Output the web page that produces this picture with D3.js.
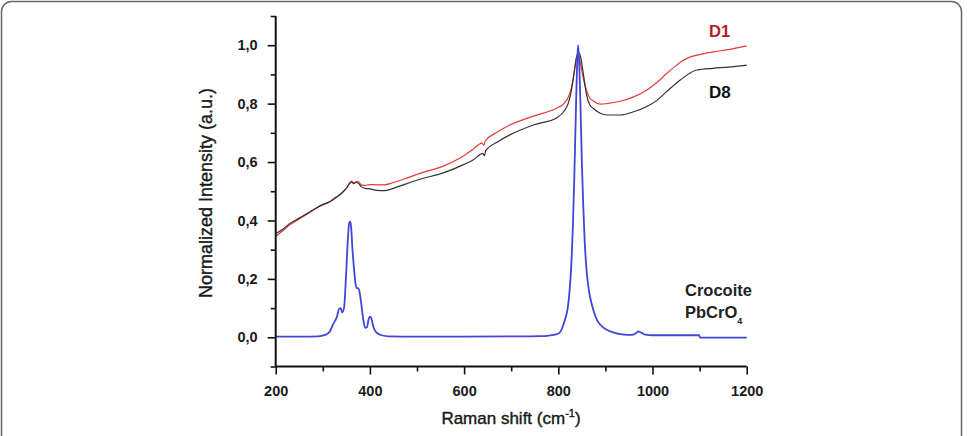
<!DOCTYPE html>
<html><head><meta charset="utf-8">
<script src="https://cdn.jsdelivr.net/npm/d3@7"></script>
<style>body{margin:0;background:#fff}svg{display:block}text{font-family:"Liberation Sans",Arial,sans-serif}</style>
</head><body>
<svg id="c" width="967" height="436"></svg>
<script>
// Crocoite (PbCrO4) reference spectrum
const crocX = [200,250,290,305,315,322,330,335,338,341,345,349,353,356,358,360,363,366,369,372,375,378,382,386,390,394,397,400,403,406,410,416,425,440,500,600,700,760,780,795,803,808,812,816,820,824,828,831,834,837,840,842,844,847,850,853,856,860,865,870,876,882,890,900,915,935,955,965,970,976,985,1000,1050,1099,1101,1200];
const crocY = [0.002,0.002,0.003,0.008,0.02,0.045,0.07,0.098,0.1,0.085,0.1,0.2,0.33,0.39,0.396,0.38,0.3,0.24,0.19,0.168,0.168,0.155,0.11,0.06,0.032,0.035,0.06,0.071,0.065,0.045,0.025,0.014,0.007,0.003,0.002,0.002,0.003,0.004,0.006,0.01,0.016,0.03,0.05,0.07,0.1,0.16,0.26,0.38,0.55,0.75,0.94,1.0,0.95,0.8,0.6,0.45,0.33,0.23,0.16,0.12,0.085,0.06,0.042,0.028,0.018,0.01,0.008,0.014,0.02,0.016,0.009,0.007,0.007,0.007,-0.001,-0.001];
// D1 sample
const d1X = [200,215,230,250,273,295,315,328,336,344,351,356,361,366,370,375,382,390,400,415,430,450,471,506,556,600,620,638,642,645,670,697,747,797,812,822,828,833,837,841,845,849,854,860,866,875,889,903,931,960,988,1010,1030,1050,1062,1073,1100,1129,1160,1200];
const d1Y = [0.345,0.365,0.385,0.405,0.428,0.452,0.465,0.48,0.488,0.5,0.512,0.525,0.535,0.528,0.532,0.533,0.522,0.52,0.523,0.522,0.522,0.53,0.541,0.561,0.586,0.622,0.645,0.665,0.657,0.672,0.702,0.727,0.757,0.785,0.8,0.825,0.855,0.9,0.945,0.97,0.955,0.92,0.88,0.845,0.822,0.808,0.798,0.8,0.808,0.823,0.847,0.873,0.903,0.93,0.945,0.955,0.968,0.977,0.985,0.998];
// D8 sample
const d8X = [200,215,230,250,273,295,315,328,336,344,351,356,361,366,370,375,382,390,400,415,430,450,471,506,556,600,620,640,643,646,670,697,747,797,814,822,828,834,839,844,848,853,860,867,874,889,903,931,960,988,1010,1030,1059,1094,1129,1160,1200];
const d8Y = [0.355,0.37,0.39,0.408,0.43,0.45,0.464,0.478,0.487,0.5,0.512,0.525,0.532,0.526,0.53,0.528,0.515,0.51,0.508,0.503,0.502,0.51,0.522,0.541,0.563,0.592,0.608,0.63,0.621,0.64,0.668,0.693,0.727,0.752,0.778,0.805,0.847,0.91,0.96,0.975,0.955,0.904,0.83,0.795,0.784,0.767,0.761,0.761,0.772,0.79,0.812,0.841,0.881,0.915,0.921,0.925,0.932];

const xMajor = [200,400,600,800,1000,1200];
const xMinor = [300,500,700,900,1100];
const yMajor = [0,0.2,0.4,0.6,0.8,1.0];
const yMinor = [-0.1,0.1,0.3,0.5,0.7,0.9,1.1];
const yTickLabels = ["0,0","0,2","0,4","0,6","0,8","1,0"];

const svg = d3.select("#c");
// frame
svg.append("rect").attr("x",1.5).attr("y",1.5).attr("width",960).attr("height",460)
  .attr("rx",10).attr("ry",10).attr("fill","none").attr("stroke","#666").attr("stroke-width",1.5);

const x = d3.scaleLinear().domain([200,1200]).range([275.7,746.7]);
const y = d3.scaleLinear().domain([-0.1,1.1]).range([366.5,16]);

const g = svg.append("g");
const line = d3.line().curve(d3.curveMonotoneX).x(d=>x(d[0])).y(d=>y(d[1]));
function series(xs, ys){ return xs.map((v,i)=>[v, ys[i]]); }

g.append("path").datum(series(d1X,d1Y)).attr("d",line).attr("fill","none").attr("stroke","#e23b3b").attr("stroke-width",1.2);
g.append("path").datum(series(d8X,d8Y)).attr("d",line).attr("fill","none").attr("stroke","#333").attr("stroke-width",1.2);
g.append("path").datum(series(crocX,crocY)).attr("d",line).attr("fill","none").attr("stroke","#4444d8").attr("stroke-width",1.8);

// axes
const xAxis = d3.axisBottom(x).tickValues(xMajor).tickSize(8).tickPadding(11).tickFormat(d3.format("d"));
const xAxisMinor = d3.axisBottom(x).tickValues(xMinor).tickSize(5).tickFormat("");
const yAxis = d3.axisLeft(y).tickValues(yMajor).tickSize(8).tickPadding(10).tickFormat((d,i)=>yTickLabels[i]);
const yAxisMinor = d3.axisLeft(y).tickValues(yMinor).tickSize(5).tickFormat("");

function style(sel){
  sel.select(".domain").attr("stroke","#111").attr("stroke-width",2);
  sel.selectAll(".tick line").attr("stroke","#111").attr("stroke-width",1.6);
  sel.selectAll(".tick text").attr("font-size",14.5).attr("font-weight","bold").attr("fill","#1a1a1a")
    .attr("font-family","'Liberation Sans',Arial,sans-serif");
}
const gx = svg.append("g").attr("transform","translate(0,"+y(-0.1)+")").call(xAxis); style(gx);
const gxm = svg.append("g").attr("transform","translate(0,"+y(-0.1)+")").call(xAxisMinor); style(gxm);
const gy = svg.append("g").attr("transform","translate("+x(200)+",0)").call(yAxis); style(gy);
const gym = svg.append("g").attr("transform","translate("+x(200)+",0)").call(yAxisMinor); style(gym);
gx.select(".domain").attr("d","M"+x(200)+",0H"+x(1200));
gxm.select(".domain").remove();
gy.select(".domain").attr("d","M0,"+y(-0.1)+"V"+y(1.1));
gym.select(".domain").remove();

// axis titles
svg.append("text").attr("transform","translate(212,193) rotate(-90)").attr("text-anchor","middle")
  .attr("font-size",18).attr("fill","#1a1a1a").attr("stroke","#1a1a1a").attr("stroke-width",0.4).text("Normalized Intensity (a.u.)");
const xt = svg.append("text").attr("x",511).attr("y",424).attr("text-anchor","middle").attr("font-size",17)
  .attr("fill","#1a1a1a").attr("stroke","#1a1a1a").attr("stroke-width",0.4);
xt.append("tspan").text("Raman shift (cm");
xt.append("tspan").attr("font-size",11).attr("dy",-7).text("-1");
xt.append("tspan").attr("dy",7).text(")");

// annotations
svg.append("text").attr("x",709).attr("y",37).attr("font-size",16.5).attr("font-weight","bold").attr("fill","#b01e28").text("D1");
svg.append("text").attr("x",709).attr("y",98).attr("font-size",17).attr("font-weight","bold").attr("fill","#111").text("D8");
svg.append("text").attr("x",685).attr("y",296).attr("font-size",16.5).attr("font-weight","bold").attr("fill","#222").text("Crocoite");
const pb = svg.append("text").attr("x",685).attr("y",318).attr("font-size",16.5).attr("font-weight","bold").attr("fill","#222");
pb.append("tspan").text("PbCrO");
pb.append("tspan").attr("font-size",9).attr("dy",6).text("4");
</script>
</body></html>
